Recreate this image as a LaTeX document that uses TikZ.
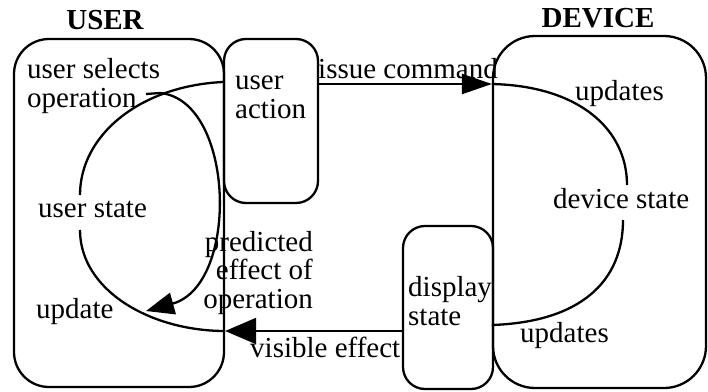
\documentclass[tikz,border=0pt]{standalone}
\usepackage{fontspec}
\setmainfont{Liberation Serif}
\usetikzlibrary{arrows.meta}
\begin{document}
\begin{tikzpicture}[x=1pt,y=-1pt,
  box/.style={draw, line width=2.3pt, rectangle, inner sep=0pt},
  lbl/.style={inner sep=0pt, align=left, font=\fontsize{29}{28.5}\selectfont},
  ttl/.style={inner sep=0pt, font=\fontsize{29}{28.5}\selectfont\bfseries},
  wire/.style={line width=2.3pt},
  tipA/.style={-{Triangle[length=30pt,width=20pt]}},
  tipB/.style={-{Triangle[length=31pt,width=26pt]}},
  tipC/.style={-{Triangle[length=28pt,width=22pt]}},
]
\useasboundingbox (0,0) rectangle (708,391);

% titles
\node[ttl, anchor=base] (tuser) at (105,29) {USER};
\node[ttl, anchor=base] (tdev) at (598,27) {DEVICE};

% boxes
\node[box, rounded corners=35pt, minimum width=210pt, minimum height=348pt] (user) at (119,213) {};
\node[box, rounded corners=22pt, minimum width=94pt, minimum height=164pt] (act) at (271,121) {};
\node[box, rounded corners=42pt, minimum width=213pt, minimum height=352pt] (dev) at (599.5,212) {};
\node[box, rounded corners=22pt, minimum width=90pt, minimum height=163pt] (disp) at (448,307.5) {};

% texts (a multi-line node's base is the baseline of its last line)
\node[lbl, anchor=base west] (sel) at (27,107) {user selects\\operation};
\node[lbl, anchor=base west] (acttxt) at (235,118) {user\\action};
\node[lbl, anchor=base west] (ustate) at (38,217) {user state};
\node[lbl, anchor=base west] (upd) at (36,318) {update};
\node[lbl, anchor=base east, align=right] (pred) at (313,308) {predicted\\effect of\\operation};
\node[lbl, anchor=base west] (vis) at (250,357) {visible effect};
\node[lbl, anchor=base west] (cmd) at (318,78) {issue command};
\node[lbl, anchor=base west] (upt) at (575,100) {updates};
\node[lbl, anchor=base west] (dstate) at (553,208) {device state};
\node[lbl, anchor=base west] (upb) at (520,342) {updates};
\node[lbl, anchor=base west] (disptxt) at (408,325) {display\\state};

% levels and loose curve ends
\coordinate (cmdlvl) at (0,84);
\coordinate (vislvl) at (0,331);
\coordinate (updlvl) at (0,325);
\coordinate (dtop) at (627,185);
\coordinate (dbot) at (623,220);
\coordinate (utop) at (80,195);
\coordinate (ubot) at (80,230);
\coordinate (stub) at (146,94);
\coordinate (predtip) at (146,311);

% device side
\draw[wire, tipA] (act.east |- cmdlvl) -- (dev.west |- cmdlvl);
\draw[wire] (dev.west |- cmdlvl) .. controls (580,86) and (627,130) .. (dtop);
\draw[wire] (dbot) .. controls (623,282) and (580,322) .. (dev.west |- updlvl);
\draw[wire, tipB] (disp.west |- vislvl) -- (user.east |- vislvl);

% user side
\draw[wire] (act.west |- 0,82) .. controls (140,86) and (80,135) .. (utop);
\draw[wire] (ubot) .. controls (80,290) and (150,331) .. (user.east |- vislvl);
\draw[wire, tipC] (stub) -- (160,93) .. controls (235,100) and (240,285) .. (predtip);
\end{tikzpicture}
\end{document}
